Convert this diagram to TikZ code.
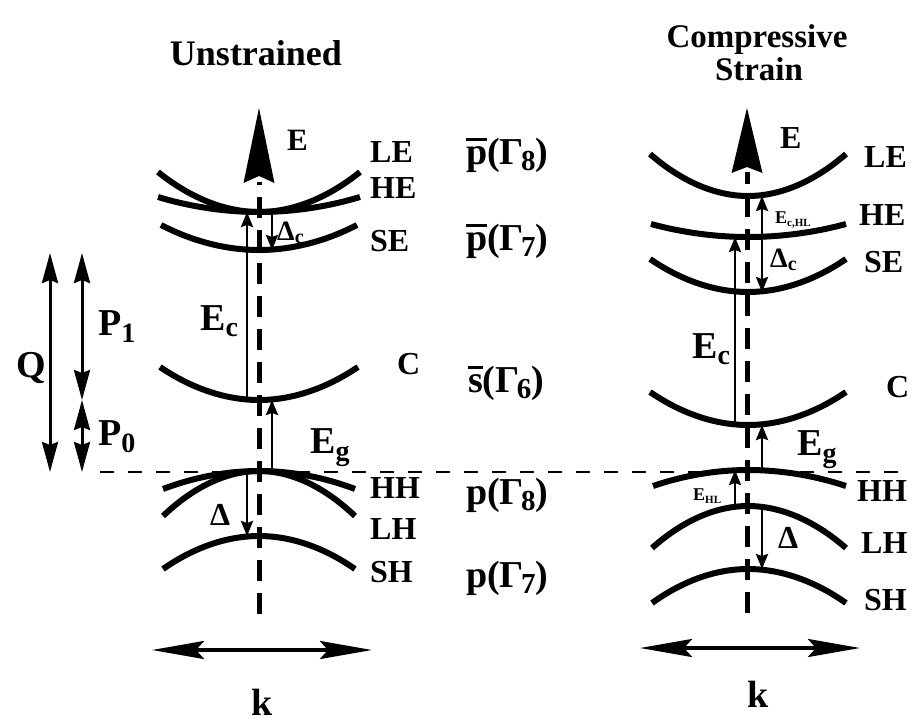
\documentclass[tikz,border=0pt]{standalone}
\usepackage{fontspec}
\setmainfont{Liberation Serif}
\usetikzlibrary{arrows.meta}
\newcommand\fsz[1]{\fontsize{#1}{#1}\selectfont}
\newcommand\lowsub[3]{\raisebox{#1}{\fsz{#2}#3}}
\newcommand\barred[1]{\vbox{\hrule height 2.8pt\kern 5pt\hbox{#1}}}
\newcommand\gsub[1]{Γ\kern-3pt\lowsub{-6pt}{29}{#1}}
\begin{document}
\begin{tikzpicture}[x=1pt,y=-1pt,
  band/.style={line width=6pt},
  axisline/.style={line width=5pt, dash pattern=on 21pt off 12pt},
  gaparrow/.style={line width=2.5pt, -{Stealth[length=15pt,width=12pt,inset=2pt]}},
  dblarrow/.style={line width=3pt, {Stealth[length=30pt,width=16pt,inset=3pt]}-{Stealth[length=30pt,width=16pt,inset=3pt]}},
  karrow/.style={line width=3.5pt, {Stealth[length=52pt,width=18pt,inset=8pt]}-{Stealth[length=52pt,width=18pt,inset=8pt]}},
  lbl/.style={font=\fsz{32}\bfseries, inner sep=0pt, anchor=west},
  plbl/.style={font=\fsz{38}\bfseries, inner sep=0pt, anchor=west},
  big/.style={font=\fsz{38}\bfseries, inner sep=0pt, anchor=base west},
  mid/.style={font=\fsz{31}\bfseries, inner sep=0pt, anchor=base west},
  tiny/.style={font=\fsz{18}\bfseries, inner sep=0pt, anchor=base west},
  title/.style={font=\fsz{36}\bfseries, inner sep=0pt, anchor=base}]
\useasboundingbox (0,0) rectangle (914,724);

% ---------- titles ----------
\node[title] (t1) at (256,65) {Unstrained};
\node[title,font=\fsz{33}\bfseries] (t2) at (757,47) {Compressive};
\node[title,font=\fsz{33}\bfseries] (t3) at (759,80) {Strain};

% ---------- valence band edge reference ----------
\draw[line width=2.5pt, dash pattern=on 14pt off 14pt] (100,472) -- (905,472);

% ================= UNSTRAINED =================
\coordinate (uLE) at (259,212);
\coordinate (uSE) at (259,250);
\coordinate (uC)  at (259,400);
\coordinate (uHH) at (259,471);
\coordinate (uSH) at (259,536);
\coordinate (uxl) at (247,0);
\coordinate (uxr) at (272,0);

\draw[axisline] (259,614) -- (259,182);
\fill (259,108) -- (274.5,183) -- (259,176) -- (243.5,183) -- cycle;

\draw[band] (158,172) parabola bend (uLE) (360,172);
\draw[band] (158,197) parabola bend (uLE) (360,197);
\draw[band] (161,225) parabola bend (uSE) (357,225);
\draw[band] (160,367) parabola bend (uC) (358,367);
\draw[band] (163,489) parabola bend (uHH) (355,489);
\draw[band] (163,516) parabola bend (uHH) (355,516);
\draw[band] (163,569) parabola bend (uSH) (355,569);

\draw[gaparrow] (uxl |- uC) -- (uxl |- uLE);
\draw[gaparrow] (uxr |- uLE) -- (uxr |- uSE);
\draw[gaparrow] (uxr |- uHH) -- (uxr |- uC);
\draw[gaparrow] (uxl |- uHH) -- (uxl |- uSH);

\node[mid] (uE) at (287,150) {E};
\node[big] (uEc) at (200,330) {E\lowsub{-6pt}{28}{c}};
\node[big] (uEg) at (310,453) {E\lowsub{-7pt}{28}{g}};
\node[mid,font=\fsz{28}\bfseries] (uDc) at (277,240) {Δ\lowsub{-3pt}{20}{c}};
\node[mid,font=\fsz{32}\bfseries] (uD) at (210,525) {Δ};

\node[lbl] at (370,152) {LE};
\node[lbl] at (370,188) {HE};
\node[lbl] at (370,241) {SE};
\node[lbl] at (397,364) {C};
\node[lbl] at (370,488) {HH};
\node[lbl] at (370,529) {LH};
\node[lbl] at (370,572) {SH};

\node[plbl] at (466,155) {\barred{p}(\gsub{8})};
\node[plbl] at (466,241) {\barred{p}(\gsub{7})};
\node[plbl] at (468,383) {\barred{s}(\gsub{6})};
\node[plbl] at (466,495) {p(\gsub{8})};
\node[plbl] at (466,578) {p(\gsub{7})};

\coordinate (ka1) at (152,650);
\coordinate (kb1) at (372,650);
\draw[karrow] (ka1) -- (kb1);
\node[big,anchor=base] (k1) at (262,715) {k};

% ---------- Q, P1, P0 ----------
\coordinate (qt) at (50,253);
\coordinate (qb) at (50,472);
\coordinate (pt) at (82,253);
\coordinate (pm) at (82,400);
\coordinate (pb) at (82,472);
\draw[dblarrow] (qt) -- (qb);
\draw[dblarrow] (pt) -- (pm);
\draw[dblarrow] (pm) -- (pb);
\node[big,anchor=center] (Q) at (31,368) {Q};
\node[big] (P1) at (98,335) {P\lowsub{-7pt}{28}{1}};
\node[big] (P0) at (98,445) {P\lowsub{-7pt}{28}{0}};

% ================= COMPRESSIVE STRAIN =================
\coordinate (sLE) at (748,196);
\coordinate (sHE) at (748,237);
\coordinate (sSE) at (748,292);
\coordinate (sC)  at (748,425);
\coordinate (sHH) at (748,470);
\coordinate (sLH) at (748,506);
\coordinate (sSH) at (748,569);
\coordinate (sxl) at (735,0);
\coordinate (sxr) at (762,0);

\draw[axisline] (747,613) -- (747,172);
\fill (747,108) -- (762.5,173) -- (747,167) -- (731.5,173) -- cycle;

\draw[band] (650,154) parabola bend (sLE) (846,154);
\draw[band] (651,224) parabola bend (sHE) (846,224);
\draw[band] (650,259) parabola bend (sSE) (846,259);
\draw[band] (650,392) parabola bend (sC) (846,392);
\draw[band] (653,486) parabola bend (sHH) (846,486);
\draw[band] (652,548) parabola bend (sLH) (846,548);
\draw[band] (652,603) parabola bend (sSH) (846,603);

\draw[gaparrow] (sxl |- sC) -- (sxl |- sHE);
\draw[gaparrow] (sxr |- sHE) -- (sxr |- sLE);
\draw[gaparrow] (sxr |- sHE) -- (sxr |- sSE);
\draw[gaparrow] (sxr |- sHH) -- (sxr |- sC);
\draw[gaparrow] (sxl |- sLH) -- (sxl |- sHH);
\draw[gaparrow] (sxr |- sLH) -- (sxr |- sSH);

\node[mid,font=\fsz{32}\bfseries] (sE) at (780,148) {E};
\node[tiny] (sEcHL) at (775,223) {E\lowsub{-3pt}{11}{c,HL}};
\node[mid,font=\fsz{28}\bfseries] (sDc) at (770,267) {Δ\lowsub{-3pt}{20}{c}};
\node[big] (sEc) at (692,358) {E\lowsub{-6pt}{28}{c}};
\node[big] (sEg) at (797,455) {E\lowsub{-7pt}{28}{g}};
\node[tiny] (sEHL) at (693,500) {E\lowsub{-3pt}{11}{HL}};
\node[mid,font=\fsz{32}\bfseries] (sD) at (778,548) {Δ};

\node[lbl] at (864,157) {LE};
\node[lbl] at (859,215) {HE};
\node[lbl] at (864,262) {SE};
\node[lbl] at (886,387) {C};
\node[lbl] at (857,491) {HH};
\node[lbl] at (861,543) {LH};
\node[lbl] at (864,600) {SH};

\coordinate (ka2) at (640,648);
\coordinate (kb2) at (860,648);
\draw[karrow] (ka2) -- (kb2);
\node[big,anchor=base] (k2) at (758,707) {k};
\end{tikzpicture}
\end{document}
